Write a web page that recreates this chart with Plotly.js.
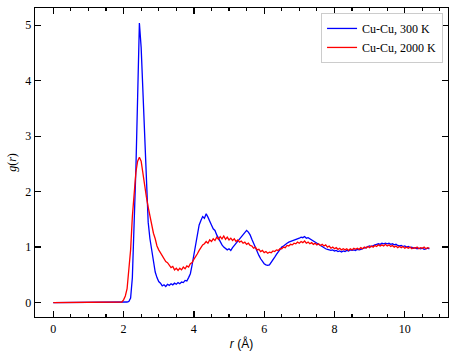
<!DOCTYPE html>
<html>
<head>
<meta charset="utf-8">
<script src="https://cdn.plot.ly/plotly-3.0.1.min.js"></script>
<style>
  body { margin: 0; background: #fff; }
  #chart { width: 457px; height: 360px; }
</style>
</head>
<body>
<div id="chart"></div>
<script>
// radial distance r (Angstrom)
var r = [
  0, 0.5, 1.0, 1.5,
  1.90, 1.95, 2.00, 2.05, 2.10, 2.15, 2.20, 2.25, 2.30, 2.35,
  2.40, 2.45, 2.50, 2.55, 2.60, 2.65, 2.70, 2.75, 2.80, 2.85,
  2.90, 2.95, 3.00, 3.05, 3.10, 3.15, 3.20, 3.25, 3.30, 3.35,
  3.40, 3.45, 3.50, 3.55, 3.60, 3.65, 3.70, 3.75, 3.80, 3.85,
  3.90, 3.95, 4.00, 4.05, 4.10, 4.15, 4.20, 4.25, 4.30, 4.35,
  4.40, 4.45, 4.50, 4.55, 4.60, 4.65, 4.70, 4.75, 4.80, 4.85,
  4.90, 4.95, 5.00, 5.05, 5.10, 5.15, 5.20, 5.25, 5.30, 5.35,
  5.40, 5.45, 5.50, 5.55, 5.60, 5.65, 5.70, 5.75, 5.80, 5.85,
  5.90, 5.95, 6.00, 6.05, 6.10, 6.15, 6.20, 6.25, 6.30, 6.35,
  6.40, 6.45, 6.50, 6.55, 6.60, 6.65, 6.70, 6.75, 6.80, 6.85,
  6.90, 6.95, 7.00, 7.05, 7.10, 7.15, 7.20, 7.25, 7.30, 7.35,
  7.40, 7.45, 7.50, 7.55, 7.60, 7.65, 7.70, 7.75, 7.80, 7.85,
  7.90, 7.95, 8.00, 8.05, 8.10, 8.15, 8.20, 8.25, 8.30, 8.35,
  8.40, 8.45, 8.50, 8.55, 8.60, 8.65, 8.70, 8.75, 8.80, 8.85,
  8.90, 8.95, 9.00, 9.05, 9.10, 9.15, 9.20, 9.25, 9.30, 9.35,
  9.40, 9.45, 9.50, 9.55, 9.60, 9.65, 9.70, 9.75, 9.80, 9.85,
  9.90, 9.95, 10.00, 10.05, 10.10, 10.15, 10.20, 10.25, 10.30, 10.35,
  10.40, 10.45, 10.50, 10.55, 10.60, 10.65, 10.70
];

// g(r) at 300 K
var g300 = [
  0, 0, 0, 0,
  0, 0, 0, 0, 0.01, 0.02, 0.08, 0.45, 1.30, 2.40,
  3.70, 5.04, 4.60, 3.75, 2.80, 2.00, 1.45, 1.15, 0.95, 0.70,
  0.55, 0.45, 0.38, 0.35, 0.30, 0.32, 0.29, 0.33, 0.31, 0.34,
  0.32, 0.35, 0.33, 0.36, 0.34, 0.37, 0.36, 0.40, 0.39, 0.45,
  0.52, 0.68, 0.88, 1.08, 1.25, 1.40, 1.48, 1.55, 1.52, 1.60,
  1.54, 1.45, 1.40, 1.33, 1.30, 1.22, 1.15, 1.08, 1.04, 1.00,
  0.98, 0.95, 0.97, 0.94, 0.99, 1.03, 1.06, 1.10, 1.16, 1.20,
  1.24, 1.27, 1.30, 1.27, 1.22, 1.14, 1.06, 0.98, 0.92, 0.85,
  0.79, 0.74, 0.70, 0.68, 0.67, 0.68, 0.72, 0.76, 0.82, 0.87,
  0.92, 0.96, 1.00, 1.02, 1.05, 1.07, 1.09, 1.10, 1.12, 1.13,
  1.14, 1.15, 1.16, 1.18, 1.17, 1.19, 1.16, 1.17, 1.15, 1.13,
  1.11, 1.08, 1.06, 1.04, 1.02, 1.00, 0.99, 0.97, 0.96, 0.95,
  0.94, 0.95, 0.93, 0.94, 0.92, 0.93, 0.91, 0.93, 0.92, 0.94,
  0.93, 0.95, 0.94, 0.95, 0.94, 0.96, 0.95, 0.96, 0.97, 0.98,
  0.99, 1.00, 1.02, 1.01, 1.03, 1.04, 1.05, 1.06, 1.05, 1.07,
  1.06, 1.07, 1.06, 1.07, 1.05, 1.06, 1.04, 1.05, 1.03, 1.02,
  1.03, 1.01, 1.02, 1.00, 1.01, 0.99, 1.00, 0.98, 0.99, 0.97,
  0.98, 0.97, 0.98, 0.96, 0.97, 0.98, 0.97
];

// g(r) at 2000 K
var g2000 = [
  0, 0, 0, 0,
  0, 0.01, 0.05, 0.12, 0.25, 0.55, 0.95, 1.55, 2.05, 2.35,
  2.55, 2.62, 2.55, 2.32, 2.05, 1.90, 1.72, 1.55, 1.38, 1.25,
  1.15, 1.02, 0.95, 0.90, 0.84, 0.80, 0.74, 0.72, 0.68, 0.63,
  0.65, 0.59, 0.62, 0.58, 0.62, 0.59, 0.64, 0.61, 0.66, 0.64,
  0.70, 0.72, 0.78, 0.82, 0.88, 0.94, 0.99, 1.04, 1.06, 1.10,
  1.07, 1.13, 1.10, 1.15, 1.12, 1.18, 1.14, 1.19, 1.15, 1.20,
  1.14, 1.18, 1.13, 1.16, 1.12, 1.15, 1.10, 1.13, 1.09, 1.11,
  1.07, 1.09, 1.05, 1.07, 1.03, 1.02, 0.98, 1.00, 0.95, 0.96,
  0.92, 0.94, 0.90, 0.92, 0.89, 0.91, 0.90, 0.93, 0.92, 0.95,
  0.94, 0.97, 0.97, 1.00, 0.99, 1.03, 1.02, 1.05, 1.04, 1.07,
  1.06, 1.09, 1.07, 1.10, 1.08, 1.11, 1.07, 1.09, 1.06, 1.08,
  1.05, 1.07, 1.04, 1.06, 1.03, 1.05, 1.02, 1.04, 1.00, 1.02,
  0.98, 1.00, 0.97, 0.99, 0.96, 0.98, 0.95, 0.97, 0.95, 0.97,
  0.94, 0.97, 0.95, 0.98, 0.96, 0.98, 0.96, 0.99, 0.97, 1.00,
  0.98, 1.01, 0.99, 1.02, 1.00, 1.03, 1.01, 1.04, 1.02, 1.04,
  1.02, 1.05, 1.02, 1.04, 1.01, 1.03, 1.00, 1.02, 0.99, 1.01,
  0.99, 1.01, 0.98, 1.00, 0.98, 1.00, 0.97, 0.99, 0.98, 1.00,
  0.97, 0.99, 0.98, 1.00, 0.97, 0.99, 0.98
];

var names = ["Cu-Cu, 300 K", "Cu-Cu, 2000 K"];

var serif = "Liberation Serif, Times New Roman, serif";

var traces = [
  {
    x: r,
    y: g300,
    mode: "lines",
    name: names[0],
    line: { color: "#0000ff", width: 1.3 },
  },
  {
    x: r,
    y: g2000,
    mode: "lines",
    name: names[1],
    line: { color: "#ff0000", width: 1.3 },
  },
];

var axisCommon = {
  showline: true,
  linecolor: "#000",
  linewidth: 1.4,
  mirror: "ticks",
  ticks: "inside",
  ticklen: 6,
  tickwidth: 1.3,
  tickcolor: "#000",
  showgrid: false,
  zeroline: false,
  tickfont: { family: serif, size: 12, color: "#000" },
};

var layout = {
  width: 457,
  height: 360,
  margin: { l: 35, r: 9, t: 8, b: 43 },
  paper_bgcolor: "#fff",
  plot_bgcolor: "#fff",
  showlegend: true,
  legend: {
    x: 0.988,
    y: 0.984,
    xanchor: "right",
    yanchor: "top",
    bgcolor: "#fff",
    bordercolor: "#cccccc",
    borderwidth: 1,
    itemwidth: 30,
    font: { family: serif, size: 12, color: "#000" },
    tracegroupgap: 0,
  },
  xaxis: Object.assign({}, axisCommon, {
    range: [-0.52, 11.23],
    tickvals: [0, 2, 4, 6, 8, 10],
    minor: { dtick: 0.5, ticks: "inside", ticklen: 3, tickwidth: 1.1, tickcolor: "#000" },
    title: {
      text: "<i>r</i> (Å)",
      font: { family: "Liberation Sans, Arial, sans-serif", size: 12, color: "#000" },
      standoff: 5,
    },
  }),
  yaxis: Object.assign({}, axisCommon, {
    range: [-0.26, 5.31],
    tickvals: [0, 1, 2, 3, 4, 5],
    title: {
      text: "<i>g</i>(<i>r</i>)",
      font: { family: serif, size: 12, color: "#000" },
      standoff: 6,
    },
  }),
};

Plotly.newPlot("chart", traces, layout, { displayModeBar: false, staticPlot: true });
</script>
</body>
</html>
